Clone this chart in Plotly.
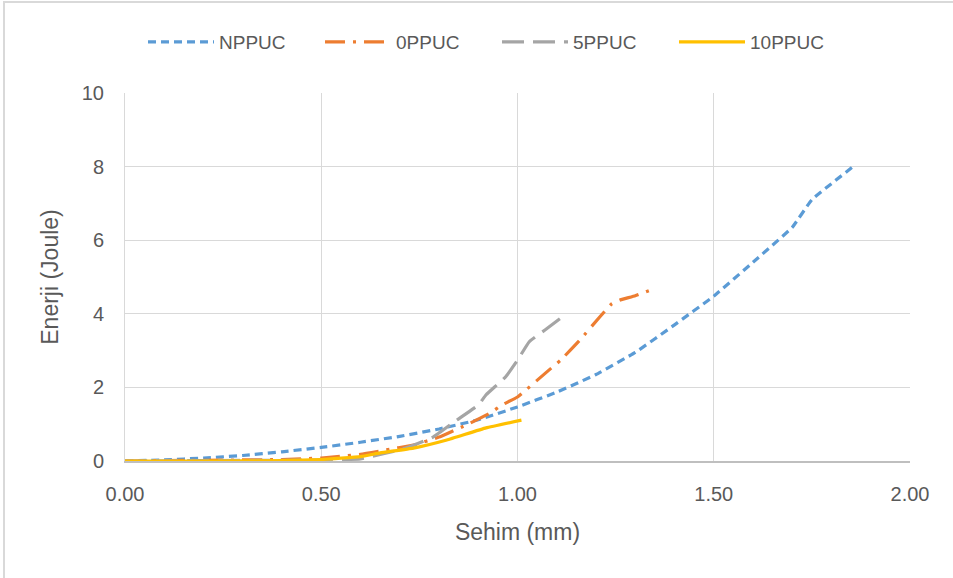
import plotly.graph_objects as go

# Data
np_x = [0.00, 0.10, 0.20, 0.30, 0.40, 0.50, 0.60, 0.70, 0.80, 0.90, 1.00, 1.10, 1.20, 1.30, 1.40, 1.50, 1.60, 1.70, 1.75, 1.86]
np_y = [0.00, 0.03, 0.08, 0.15, 0.25, 0.37, 0.51, 0.67, 0.87, 1.12, 1.47, 1.87, 2.35, 2.95, 3.70, 4.48, 5.40, 6.35, 7.10, 8.04]

p0_x = [0.00, 0.20, 0.40, 0.50, 0.60, 0.65, 0.69, 0.735, 0.80, 0.83, 0.87, 0.93, 0.96, 1.00, 1.08, 1.11, 1.16, 1.21, 1.24, 1.26, 1.30, 1.34]
p0_y = [0.00, 0.02, 0.04, 0.08, 0.18, 0.27, 0.35, 0.43, 0.65, 0.79, 0.98, 1.30, 1.52, 1.74, 2.47, 2.74, 3.30, 3.92, 4.27, 4.37, 4.49, 4.65]

p5_x = [0.00, 0.20, 0.40, 0.50, 0.60, 0.65, 0.70, 0.735, 0.785, 0.845, 0.90, 0.92, 0.97, 1.00, 1.03, 1.07, 1.11]
p5_y = [0.00, 0.01, 0.02, 0.03, 0.06, 0.18, 0.30, 0.43, 0.65, 1.11, 1.52, 1.80, 2.29, 2.74, 3.24, 3.56, 3.88]

p10_x = [0.00, 0.20, 0.40, 0.50, 0.60, 0.65, 0.735, 0.82, 0.92, 1.01]
p10_y = [0.00, 0.00, 0.01, 0.04, 0.12, 0.22, 0.35, 0.57, 0.90, 1.11]

names = ["NPPUC", "0PPUC", "5PPUC", "10PPUC"]
colors = ["#5B9BD5", "#ED7D31", "#A5A5A5", "#FFC000"]
dashes = ["8px,5px", "20px,8px,3px,8px", "22px,9px", "solid"]

x_ticks = [0, 0.5, 1.0, 1.5, 2.0]
x_tick_text = ["0.00", "0.50", "1.00", "1.50", "2.00"]
y_ticks = [0, 2, 4, 6, 8, 10]

series = [(np_x, np_y), (p0_x, p0_y), (p5_x, p5_y), (p10_x, p10_y)]

FONT = "Liberation Sans, Arial, sans-serif"
TXT = "#595959"

fig = go.Figure()
for (xs, ys), n, c, d in zip(series, names, colors, dashes):
    fig.add_trace(go.Scatter(
        x=xs, y=ys, name=n, mode="lines",
        line=dict(color=c, width=3.2, dash=d, shape="spline", smoothing=0.3),
    ))

W, H = 953, 578
L, R, T, B = 125, 43, 93, 117
pw, ph = W - L - R, H - T - B

def px_x(p):
    return (p - L) / pw

def px_y(p):
    return (H - B - p) / ph

fig.update_layout(
    width=W, height=H,
    margin=dict(l=L, r=R, t=T, b=B, autoexpand=False),
    paper_bgcolor="white", plot_bgcolor="white",
    font=dict(family=FONT, color=TXT, size=20),
    showlegend=True,
    legend=dict(
        orientation="h", x=px_x(143), xanchor="left", y=px_y(42), yanchor="middle",
        font=dict(size=19, color=TXT), entrywidth=96, entrywidthmode="pixels",
        itemwidth=66, bgcolor="rgba(0,0,0,0)", tracegroupgap=0,
    ),
    xaxis=dict(
        range=[0, 2], tickvals=x_ticks, ticktext=x_tick_text,
        showgrid=True, gridcolor="#D9D9D9", gridwidth=1,
        showline=True, linecolor="#BFBFBF", linewidth=1.5,
        zeroline=False, ticks="", ticklabelstandoff=14, automargin=False,
        tickfont=dict(size=20, color=TXT),
        title=dict(text="Sehim (mm)", font=dict(size=23, color=TXT), standoff=20),
    ),
    yaxis=dict(
        range=[0, 10], tickvals=y_ticks,
        showgrid=True, gridcolor="#D9D9D9", gridwidth=1,
        showline=True, linecolor="#D9D9D9", linewidth=1,
        zeroline=False, ticks="", ticklabelstandoff=16, automargin=False,
        tickfont=dict(size=20, color=TXT),
        title=dict(text="Enerji (Joule)", font=dict(size=23, color=TXT), standoff=16),
    ),
    shapes=[dict(
        type="rect", xref="paper", yref="paper",
        x0=px_x(4), x1=px_x(957), y0=px_y(582), y1=px_y(2),
        line=dict(color="#D9D9D9", width=2), fillcolor="rgba(0,0,0,0)", layer="below",
    )],
)

fig.write_html("out.html", config={"displayModeBar": False},
               post_script="document.body.style.margin='0';")
